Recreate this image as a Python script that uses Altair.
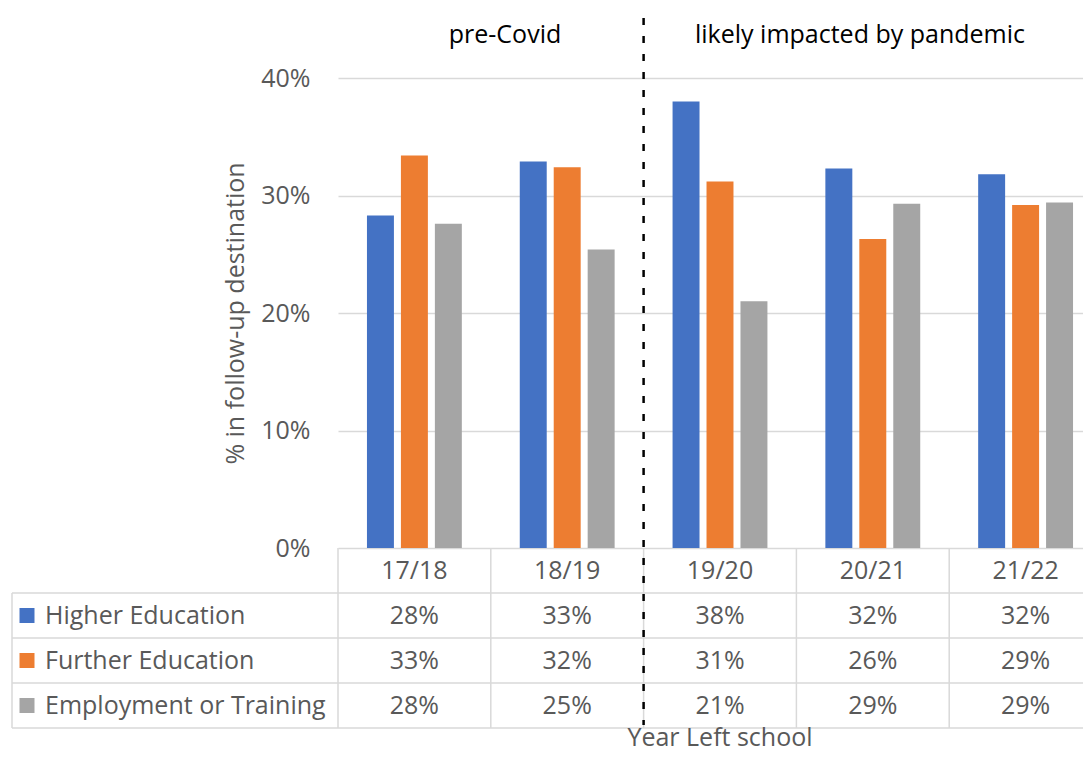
import altair as alt
import pandas as pd

# ---- data ----
years = ["17/18", "18/19", "19/20", "20/21", "21/22"]
series = ["Higher Education", "Further Education", "Employment or Training"]
higher_ed = [0.283, 0.329, 0.380, 0.323, 0.318]
further_ed = [0.334, 0.324, 0.312, 0.263, 0.292]
employment = [0.276, 0.254, 0.210, 0.293, 0.294]
colors = ["#4472C4", "#ED7D31", "#A5A5A5"]
periods = ["pre-Covid", "likely impacted by pandemic"]
covid_start = "19/20"
x_title = "Year Left school"
y_title = "% in follow-up destination"
row_names = ["header"] + series

FONT = "Open Sans"
GREY_TXT = "#595959"
LINE = "#D9D9D9"
FS = 25

rows = []
for s, vals in zip(series, [higher_ed, further_ed, employment]):
    for y, v in zip(years, vals):
        rows.append({"year": y, "series": s, "value": v, "row": s})
df = pd.DataFrame(rows)
df_header = pd.DataFrame({"year": years, "row": ["header"] * len(years)})
df_series = pd.DataFrame({"series": series, "row": series})
df_allrows = pd.DataFrame({"row": row_names})
df_years = pd.DataFrame({"year": years})
df_covid = pd.DataFrame({"year": [covid_start]})
df_periods = pd.DataFrame({"label": periods})

xscale = alt.Scale(domain=years, range=[0, 764], paddingInner=0, paddingOuter=0)
rowscale = alt.Scale(domain=row_names, range=[470, 650], paddingInner=0, paddingOuter=0)
cscale = alt.Scale(domain=series, range=colors)

bars = alt.Chart(df).mark_bar().encode(
    x=alt.X("year:N", sort=years, scale=xscale, axis=None),
    xOffset=alt.XOffset("series:N", sort=series,
                        scale=alt.Scale(domain=series, paddingInner=0.206, paddingOuter=0.853)),
    y=alt.Y("value:Q", scale=alt.Scale(domain=[0, 0.4]),
            axis=alt.Axis(format=".0%", values=[0, 0.1, 0.2, 0.3, 0.4], grid=True,
                          gridColor=LINE, gridWidth=1.5, ticks=False, domain=False,
                          labelFont=FONT, labelFontSize=FS, labelColor=GREY_TXT,
                          labelPadding=28, title=y_title, titleFont=FONT,
                          titleFontSize=FS, titleFontWeight="normal", titleColor=GREY_TXT,
                          titleX=-103, titleY=235, titleAngle=-90, titleAlign="center",
                          titleBaseline="middle")),
    color=alt.Color("series:N", scale=cscale, legend=None),
)

header_text = alt.Chart(df_header).mark_text(font=FONT, fontSize=FS, color=GREY_TXT,
                                             baseline="middle").encode(
    x=alt.X("year:N", sort=years, scale=xscale, axis=None),
    y=alt.Y("row:N", scale=rowscale, axis=None),
    text="year:N",
)

cell_text = alt.Chart(df).mark_text(font=FONT, fontSize=FS, color=GREY_TXT,
                                    baseline="middle").encode(
    x=alt.X("year:N", sort=years, scale=xscale, axis=None),
    y=alt.Y("row:N", scale=rowscale, axis=None),
    text=alt.Text("value:Q", format=".0%"),
)

row_labels = alt.Chart(df_series).mark_text(font=FONT, fontSize=FS, color=GREY_TXT,
                                            align="left", baseline="middle").encode(
    x=alt.value(-293),
    y=alt.Y("row:N", scale=rowscale, axis=None),
    text="series:N",
)

legend_sq = alt.Chart(df_series).mark_square(size=225, opacity=1, strokeWidth=0).encode(
    x=alt.value(-311),
    y=alt.Y("row:N", scale=rowscale, axis=None),
    color=alt.Color("series:N", scale=cscale, legend=None),
)

h_lines = alt.Chart(df_allrows).mark_rule(color=LINE, strokeWidth=1.5).encode(
    x=alt.value(-326), x2=alt.value(764),
    y=alt.Y("row:N", scale=rowscale, axis=None, bandPosition=1),
)

v_lines = alt.Chart(df_years).mark_rule(color=LINE, strokeWidth=1.5).encode(
    x=alt.X("year:N", sort=years, scale=xscale, axis=None, bandPosition=0),
    y=alt.value(470), y2=alt.value(650),
)

left_line = alt.Chart(df_years.head(1)).mark_rule(color=LINE, strokeWidth=1.5).encode(
    x=alt.value(-326), y=alt.value(515), y2=alt.value(650),
)

dashed = alt.Chart(df_covid).mark_rule(color="black", strokeWidth=2.5,
                                       strokeDash=[7, 11]).encode(
    x=alt.X("year:N", sort=years, scale=xscale, axis=None, bandPosition=0),
    y=alt.value(-60), y2=alt.value(647),
)

pre_label = alt.Chart(df_periods.head(1)).mark_text(font=FONT, fontSize=FS, color="black",
                                                    baseline="middle").encode(
    x=alt.value(167), y=alt.value(-43), text="label:N",
)
post_label = alt.Chart(df_periods.tail(1)).mark_text(font=FONT, fontSize=FS, color="black",
                                                     baseline="middle").encode(
    x=alt.value(522), y=alt.value(-43), text="label:N",
)

xtitle = alt.Chart(pd.DataFrame({"t": [x_title]})).mark_text(
    font=FONT, fontSize=FS, color=GREY_TXT, baseline="bottom").encode(
    x=alt.value(382), y=alt.value(673), text="t:N",
)

chart = alt.layer(
    bars, h_lines, v_lines, left_line, header_text, cell_text, row_labels, legend_sq,
    dashed, pre_label, post_label, xtitle,
).resolve_scale(y="independent").properties(
    width=745, height=470,
    autosize=alt.AutoSizeParams(type="none"),
    padding={"left": 330, "top": 70, "right": 0, "bottom": 204},
).configure_view(stroke=None)

chart.save("out.html", embed_options={"renderer": "svg", "actions": False})
